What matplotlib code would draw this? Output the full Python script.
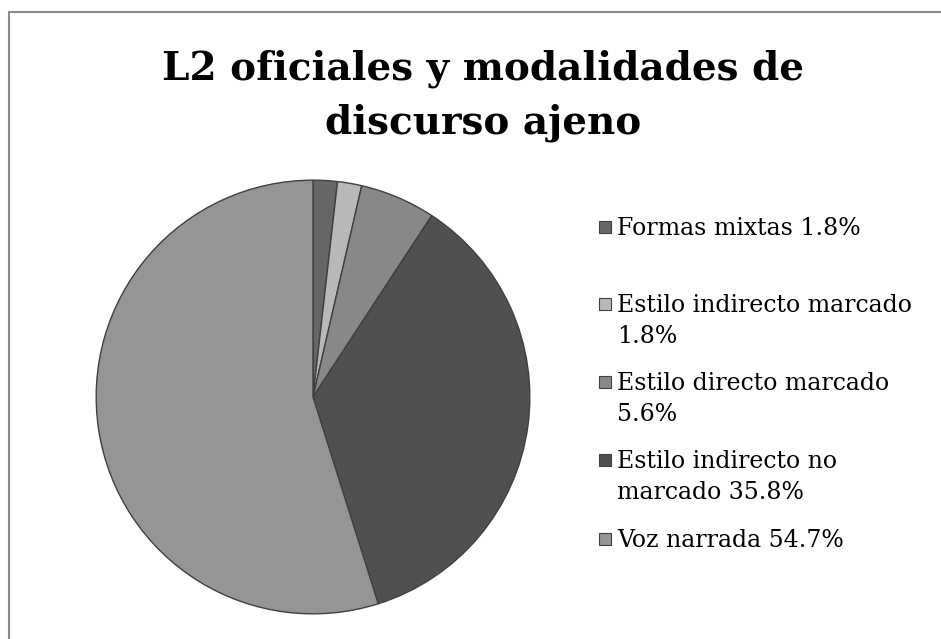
import matplotlib.pyplot as plt
from matplotlib.lines import Line2D
from matplotlib.patches import Rectangle

labels = ["Formas mixtas 1.8%",
          "Estilo indirecto marcado\n1.8%",
          "Estilo directo marcado\n5.6%",
          "Estilo indirecto no\nmarcado 35.8%",
          "Voz narrada 54.7%"]
values = [1.8, 1.8, 5.6, 35.8, 54.7]
colors = ["#666666", "#b8b8b8", "#888888", "#505050", "#959595"]
title = "L2 oficiales y modalidades de\ndiscurso ajeno"

W, H = 941, 639
fig = plt.figure(figsize=(W / 100, H / 100), dpi=100)

# pie: centre (313, 397) px, radius 219 px
r = 219
ax = fig.add_axes([(313 - r) / W, (H - 397 - r) / H, 2 * r / W, 2 * r / H])
ax.pie(values, colors=colors, startangle=90, counterclock=False,
       wedgeprops=dict(edgecolor="#404040", linewidth=1.0))
ax.set_xlim(-1.01, 1.01)
ax.set_ylim(-1.01, 1.01)
ax.set_aspect("equal")
ax.axis("off")

# title, one baseline per line
for k, line in enumerate(title.split("\n")):
    fig.text(483 / W, 1 - (79 + 54 * k) / H, line, ha="center",
             va="baseline", fontsize=28, fontweight="bold",
             family="DejaVu Serif")

# legend, marker aligned with first line of each entry
baselines = [235, 312, 390, 468, 547]
for lab, col, yb in zip(labels, colors, baselines):
    fig.patches.append(Rectangle((599 / W, 1 - (yb - 2) / H), 12 / W, 12 / H,
                                 transform=fig.transFigure, facecolor=col,
                                 edgecolor="#404040", linewidth=0.8))
    for k, line in enumerate(lab.split("\n")):
        fig.text(617 / W, 1 - (yb + 31 * k) / H, line, ha="left",
                 va="baseline", fontsize=17, family="DejaVu Serif",
                 color="black")

# chart-area frame (cropped at right and bottom)
fig.lines.append(Line2D([9 / W, 9 / W, 1.0], [0.0, 1 - 12 / H, 1 - 12 / H],
                        transform=fig.transFigure, color="#8a8a8a",
                        linewidth=1.5))

fig.savefig("out.png", dpi=100)
